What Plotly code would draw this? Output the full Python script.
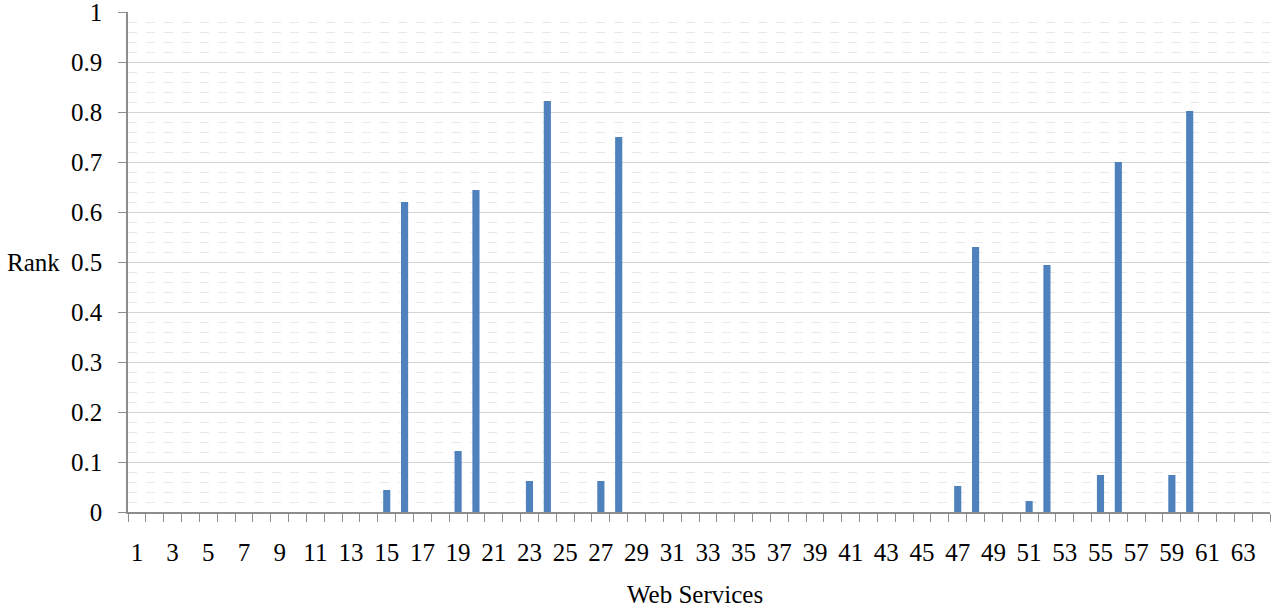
import plotly.graph_objects as go

services = list(range(1, 65))
rank_values = {15: 0.044, 16: 0.62, 19: 0.122, 20: 0.644, 23: 0.062, 24: 0.822,
               27: 0.062, 28: 0.75, 47: 0.052, 48: 0.53, 51: 0.022, 52: 0.494,
               55: 0.074, 56: 0.70, 59: 0.074, 60: 0.802}
ranks = [rank_values.get(s, 0) for s in services]
x_tick_labels = [str(v) for v in range(1, 64, 2)]
y_tick_values = [round(i * 0.1, 1) for i in range(11)]
y_tick_labels = ["0", "0.1", "0.2", "0.3", "0.4", "0.5", "0.6", "0.7", "0.8", "0.9", "1"]

font = dict(family="Liberation Serif, Times New Roman, serif", size=25, color="#000000")

fig = go.Figure(go.Bar(x=services, y=ranks, marker=dict(color="#4F81BD", line=dict(width=0)),
                       width=0.4))

fig.update_layout(
    width=1279, height=610,
    margin=dict(l=128, r=9, t=12, b=98, autoexpand=False),
    plot_bgcolor="white", paper_bgcolor="white",
    showlegend=False,
    font=font,
)
fig.update_xaxes(
    range=[0.5, 64.5], tickmode="array",
    tickvals=list(range(1, 64, 2)), ticktext=x_tick_labels,
    ticks="", ticklabelstandoff=17, showgrid=False, zeroline=False, automargin=False,
    showline=True, linecolor="#8c8c8c", linewidth=1.5,
    minor=dict(ticks="outside", tick0=0.5, dtick=1, ticklen=8, tickcolor="#8c8c8c", showgrid=False),
    tickfont=font, ticklabeloverflow="allow",
)
fig.update_yaxes(
    range=[0, 1], tickmode="array", tickvals=y_tick_values, ticktext=y_tick_labels,
    ticks="outside", ticklen=8, tickcolor="#8c8c8c", ticklabelstandoff=11, automargin=False,
    showgrid=True, gridcolor="#d4d4d4", gridwidth=1.2, zeroline=False,
    showline=True, linecolor="#8c8c8c", linewidth=1.5,
    minor=dict(dtick=0.02, tick0=0, showgrid=True, gridcolor="#e8e8e8", griddash="dash", gridwidth=1),
    tickfont=font, ticklabeloverflow="allow",
)
fig.add_annotation(text="Rank", x=-123/1142, y=(512-262)/500, xref="paper", yref="paper",
                   showarrow=False, font=font, xanchor="left", yanchor="middle")
fig.add_annotation(text="Web Services", x=(695-128)/1142, y=-(594-512)/500, xref="paper", yref="paper",
                   showarrow=False, font=font, xanchor="center", yanchor="middle")

fig.write_html("out.html", config={"displayModeBar": False},
               post_script="document.body.style.margin='0';document.body.style.overflow='hidden';")
